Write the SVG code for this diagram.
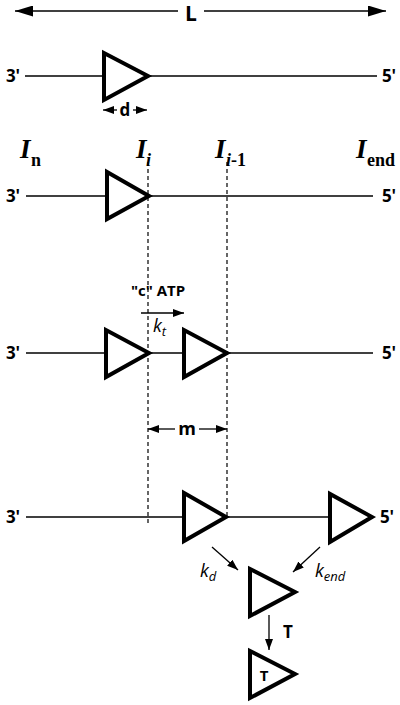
<svg xmlns="http://www.w3.org/2000/svg" width="400" height="705" viewBox="0 0 400 705">
<style>
.line{stroke:#000;stroke-width:1.3;fill:none}
.dash{stroke:#000;stroke-width:1.2;stroke-dasharray:4,3;fill:none}
.tri{fill:#fff;stroke:#000;stroke-width:4;stroke-linejoin:miter}
.lab{font-family:"Open Sans","Liberation Sans",sans-serif;font-weight:bold;fill:#000}
.it{font-family:"Open Sans","Liberation Sans",sans-serif;font-style:italic;fill:#000}
.tm{font-family:"Liberation Serif","Times New Roman",serif;font-weight:bold;fill:#000}
</style>
<defs>
<marker id="big" viewBox="0 0 10 10" refX="10" refY="5" markerWidth="18" markerHeight="11" orient="auto-start-reverse" markerUnits="userSpaceOnUse" preserveAspectRatio="none">
<path d="M0,0 L10,5 L0,10 z" fill="#000"/>
</marker>
<marker id="mid" viewBox="0 0 10 10" refX="10" refY="5" markerWidth="11" markerHeight="8" orient="auto-start-reverse" markerUnits="userSpaceOnUse" preserveAspectRatio="none">
<path d="M0,0 L10,5 L0,10 z" fill="#000"/>
</marker>
</defs>

<g id="connectors">
<line class="line" x1="15" y1="11" x2="178" y2="11" marker-start="url(#big)" stroke-width="1.6"/>
<line class="line" x1="204" y1="11" x2="386" y2="11" marker-end="url(#big)" stroke-width="1.6"/>
<line class="line" x1="103" y1="110" x2="117" y2="110" marker-start="url(#mid)"/>
<line class="line" x1="133" y1="110" x2="147" y2="110" marker-end="url(#mid)"/>
<line class="dash" x1="148" y1="162" x2="148" y2="524"/>
<line class="dash" x1="227" y1="162" x2="227" y2="517"/>
<line class="line" x1="141" y1="313" x2="184" y2="313" marker-end="url(#mid)"/>
<line class="line" x1="148" y1="429" x2="175" y2="429" marker-start="url(#mid)"/>
<line class="line" x1="199" y1="429" x2="227" y2="429" marker-end="url(#mid)"/>
<line class="line" x1="212" y1="547" x2="238" y2="570" marker-end="url(#mid)"/>
<line class="line" x1="320" y1="547" x2="293" y2="572" marker-end="url(#mid)"/>
<line class="line" x1="269" y1="615" x2="269" y2="650" marker-end="url(#mid)"/>
</g>

<g id="lengthL">
<text class="lab" x="191" y="21" font-size="21" text-anchor="middle">L</text>
</g>

<g id="row1">
<line class="line" x1="25" y1="76" x2="377" y2="76"/>
<text class="lab" x="13" y="82" font-size="17" text-anchor="middle">3'</text>
<text class="lab" x="389" y="82" font-size="17" text-anchor="middle">5'</text>
<polygon class="tri" points="104,53 104,100 148,76"/>
<text class="lab" x="125" y="116" font-size="17" text-anchor="middle">d</text>
</g>

<g id="labelsI">
<text class="tm" x="20" y="158" font-size="27" font-style="italic">I</text>
<text class="tm" x="31" y="166" font-size="18">n</text>
<text class="tm" x="136" y="158" font-size="27" font-style="italic">I</text>
<text class="tm" x="146" y="166" font-size="18" font-style="italic">i</text>
<text class="tm" x="215" y="158" font-size="27" font-style="italic">I</text>
<text class="tm" x="226" y="166" font-size="18"><tspan font-style="italic">i</tspan>-1</text>
<text class="tm" x="356" y="158" font-size="27" font-style="italic">I</text>
<text class="tm" x="367" y="166" font-size="18">end</text>
</g>

<g id="row2">
<line class="line" x1="26" y1="196" x2="373" y2="196"/>
<text class="lab" x="13" y="202" font-size="17" text-anchor="middle">3'</text>
<text class="lab" x="389" y="202" font-size="17" text-anchor="middle">5'</text>
<polygon class="tri" points="107,172 107,219 149,196"/>
</g>

<g id="row3">
<line class="line" x1="26" y1="353" x2="373" y2="353"/>
<text class="lab" x="13" y="359" font-size="17" text-anchor="middle">3'</text>
<text class="lab" x="389" y="359" font-size="17" text-anchor="middle">5'</text>
<polygon class="tri" points="106,330 106,377 149,353"/>
<polygon class="tri" points="184,330 184,377 227,353"/>
<text class="lab" x="158" y="296" font-size="15" text-anchor="middle">"c" ATP</text>
<text class="it" x="153" y="332" font-size="18">k<tspan font-size="13" dy="4">t</tspan></text>
<text class="lab" x="187" y="435" font-size="18" text-anchor="middle">m</text>
</g>

<g id="row4">
<line class="line" x1="26" y1="517" x2="330" y2="517"/>
<text class="lab" x="13" y="523" font-size="17" text-anchor="middle">3'</text>
<text class="lab" x="387" y="523" font-size="17" text-anchor="middle">5'</text>
<polygon class="tri" points="184,493 184,541 226,517"/>
<polygon class="tri" points="330,494 330,542 372,517"/>
</g>

<g id="rates">
<text class="it" x="200" y="577" font-size="18">k<tspan font-size="13" dy="4">d</tspan></text>
<text class="it" x="315" y="577" font-size="18">k<tspan font-size="13" dy="4">end</tspan></text>
<text class="lab" x="288" y="638" font-size="17" text-anchor="middle">T</text>
</g>

<g id="released">
<polygon class="tri" points="250,569 250,616 295,592"/>
</g>

<g id="terminal">
<polygon class="tri" points="250,651 250,698 295,674"/>
<text class="lab" x="264" y="681" font-size="15" text-anchor="middle">T</text>
</g>
</svg>
